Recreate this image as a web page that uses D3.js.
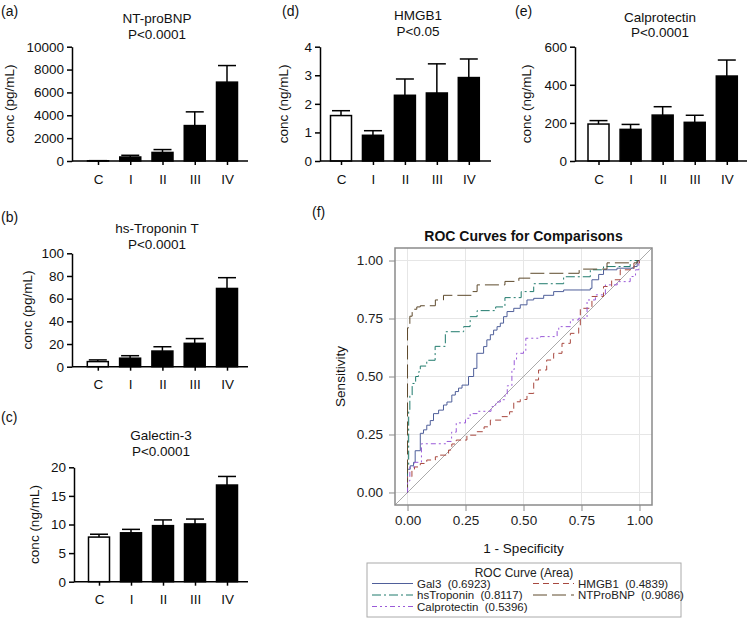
<!DOCTYPE html>
<html><head><meta charset="utf-8">
<script src="https://cdn.jsdelivr.net/npm/d3@7"></script>
<style>
body{margin:0;background:#fff;}
svg{display:block;font-family:"Liberation Sans",Arial,Helvetica,sans-serif;}
</style></head><body>
<svg id="chart" width="750" height="618"></svg>
<script>
// ---------- data ----------
const groups = ["C", "I", "II", "III", "IV"];

const ntProBNPMean = [20, 350, 750, 3100, 6900];
const ntProBNPErr  = [10, 150, 250, 1200, 1450];
const ntProBNPTicks = [0, 2000, 4000, 6000, 8000, 10000];

const troponinMean = [4.5, 7.5, 13.8, 20.6, 69];
const troponinErr  = [1.5, 2.2, 3.8, 4.2, 9.5];
const troponinTicks = [0, 20, 40, 60, 80, 100];

const galectinMean = [7.8, 8.55, 9.8, 10.1, 16.9];
const galectinErr  = [0.5, 0.6, 1.0, 0.85, 1.5];
const galectinTicks = [0, 5, 10, 15, 20];

const hmgb1Mean = [1.59, 0.90, 2.30, 2.38, 2.92];
const hmgb1Err  = [0.17, 0.16, 0.57, 1.02, 0.65];
const hmgb1Ticks = [0, 1, 2, 3, 4];

const calproMean = [194, 166, 241, 203, 446];
const calproErr  = [18, 26, 44, 37, 84];
const calproTicks = [0, 200, 400, 600];

const rocTicks = [0, 0.25, 0.5, 0.75, 1];
const rocNames = ["Gal3", "HMGB1", "hsTroponin", "NTProBNP", "Calprotectin"];
const rocAreas = ["0.6923", "0.4839", "0.8117", "0.9086", "0.5396"];

// ROC points: [1 - specificity, sensitivity] step corners
const rocGal3 = [[0,0],[0,0.10],[0.0115,0.115],[0.026,0.13],[0.033,0.18],[0.055,0.255],[0.069,0.27],[0.083,0.29],[0.098,0.31],[0.112,0.34],[0.134,0.355],[0.155,0.377],[0.17,0.39],[0.191,0.42],[0.206,0.435],[0.22,0.45],[0.235,0.463],[0.263,0.50],[0.285,0.535],[0.299,0.60],[0.328,0.629],[0.342,0.658],[0.357,0.68],[0.371,0.70],[0.386,0.715],[0.40,0.73],[0.414,0.758],[0.429,0.78],[0.458,0.794],[0.486,0.809],[0.515,0.83],[0.544,0.837],[0.587,0.85],[0.63,0.866],[0.673,0.873],[0.788,0.88],[0.795,0.917],[0.824,0.94],[0.845,0.96],[0.903,0.967],[0.976,0.974],[0.99,1.0],[1,1]];
const rocHMGB1 = [[0,0],[0,0.068],[0.019,0.096],[0.03,0.11],[0.055,0.125],[0.083,0.14],[0.12,0.154],[0.14,0.161],[0.177,0.183],[0.191,0.209],[0.21,0.226],[0.256,0.247],[0.30,0.262],[0.33,0.283],[0.357,0.312],[0.407,0.327],[0.44,0.348],[0.458,0.391],[0.486,0.401],[0.515,0.427],[0.544,0.485],[0.565,0.528],[0.60,0.571],[0.63,0.60],[0.666,0.643],[0.702,0.686],[0.738,0.715],[0.745,0.794],[0.795,0.845],[0.845,0.888],[0.88,0.917],[0.917,0.96],[0.976,0.989],[1,1]];
const rocTroponin = [[0,0],[0,0.12],[0.005,0.35],[0.01,0.42],[0.02,0.47],[0.035,0.50],[0.047,0.52],[0.055,0.545],[0.083,0.57],[0.119,0.63],[0.148,0.63],[0.163,0.693],[0.242,0.715],[0.27,0.758],[0.30,0.784],[0.38,0.80],[0.42,0.84],[0.49,0.866],[0.544,0.90],[0.673,0.93],[0.788,0.96],[0.845,0.974],[0.96,1.0],[1,1]];
const rocNTProBNP = [[0,0],[0,0.71],[0.01,0.76],[0.02,0.79],[0.04,0.80],[0.055,0.805],[0.12,0.83],[0.155,0.85],[0.278,0.866],[0.30,0.895],[0.42,0.91],[0.48,0.924],[0.53,0.945],[0.74,0.963],[0.86,0.99],[0.99,1.0],[1,1]];
const rocCalpro = [[0,0],[0,0.05],[0.01,0.11],[0.03,0.13],[0.06,0.21],[0.17,0.22],[0.19,0.26],[0.21,0.30],[0.25,0.32],[0.27,0.34],[0.30,0.35],[0.36,0.37],[0.38,0.39],[0.40,0.40],[0.42,0.42],[0.43,0.46],[0.45,0.53],[0.46,0.57],[0.47,0.60],[0.50,0.61],[0.51,0.665],[0.573,0.672],[0.645,0.70],[0.652,0.715],[0.702,0.744],[0.738,0.751],[0.774,0.83],[0.81,0.852],[0.853,0.895],[0.904,0.909],[0.96,0.931],[0.983,0.96],[0.997,0.996],[1,1]];

// ---------- drawing ----------
const FONT = '"Liberation Sans",Arial,Helvetica,sans-serif';
const svg = d3.select("#chart");

function barPanel(cfg) {
  const g = svg.append("g");
  const y = d3.scaleLinear().domain([0, cfg.max]).range([cfg.y0, cfg.yTop]);
  const x = d3.scalePoint().domain(groups).range([cfg.c0, cfg.c4]);
  const bw = 21;
  const cap = 18;

  // error bars (upper only)
  g.selectAll("line.err").data(groups).join("line")
    .attr("x1", d => x(d)).attr("x2", d => x(d))
    .attr("y1", (d, i) => y(cfg.mean[i])).attr("y2", (d, i) => y(cfg.mean[i] + cfg.err[i]))
    .attr("stroke", "#000").attr("stroke-width", 1.5);
  g.selectAll("line.cap").data(groups).join("line")
    .attr("x1", d => x(d) - cap / 2).attr("x2", d => x(d) + cap / 2)
    .attr("y1", (d, i) => y(cfg.mean[i] + cfg.err[i])).attr("y2", (d, i) => y(cfg.mean[i] + cfg.err[i]))
    .attr("stroke", "#000").attr("stroke-width", 1.5);

  // bars
  g.selectAll("rect.bar").data(groups).join("rect")
    .attr("x", d => x(d) - bw / 2).attr("width", bw)
    .attr("y", (d, i) => y(cfg.mean[i]))
    .attr("height", (d, i) => y(0) - y(cfg.mean[i]))
    .attr("fill", (d, i) => i === 0 ? "#fff" : "#000")
    .attr("stroke", "#000").attr("stroke-width", 1.5);

  // y axis
  const ya = g.append("g").attr("transform", `translate(${cfg.axisX},0)`)
    .call(d3.axisLeft(y).tickValues(cfg.ticks).tickFormat(d => String(d)).tickSize(5).tickSizeOuter(0).tickPadding(3));
  ya.attr("font-family", FONT).attr("font-size", 13.5);
  ya.select(".domain").attr("stroke-width", 1.5);
  ya.selectAll(".tick line").attr("stroke-width", 1.5);
  ya.selectAll(".tick text").attr("fill", "#111");

  // x axis
  g.append("line").attr("x1", cfg.axisX).attr("x2", cfg.axisEnd)
    .attr("y1", y(0)).attr("y2", y(0)).attr("stroke", "#000").attr("stroke-width", 1.5);
  const xa = g.append("g").attr("transform", `translate(0,${y(0)})`)
    .call(d3.axisBottom(x).tickSize(4).tickPadding(9));
  xa.attr("font-family", FONT).attr("font-size", 13.5);
  xa.select(".domain").remove();
  xa.selectAll(".tick line").attr("stroke-width", 1.5);
  xa.selectAll(".tick text").attr("fill", "#111");

  // titles
  g.append("text").attr("x", cfg.titleX).attr("y", cfg.titleY)
    .attr("text-anchor", "middle").attr("font-size", 13.5).attr("fill", "#111").text(cfg.title);
  g.append("text").attr("x", cfg.titleX).attr("y", cfg.titleY + 15.5)
    .attr("text-anchor", "middle").attr("font-size", 13.5).attr("fill", "#111").text(cfg.p);
  // y label
  const ym = (cfg.y0 + cfg.yTop) / 2;
  g.append("text").attr("transform", `translate(${cfg.labelX + 4.5},${ym}) rotate(-90)`)
    .attr("text-anchor", "middle").attr("font-size", 13.5).attr("fill", "#111").text(cfg.ylabel);
  // panel letter
  g.append("text").attr("x", cfg.letterX).attr("y", cfg.letterY)
    .attr("font-size", 14).attr("fill", "#111").text(cfg.letter);
}

barPanel({letter: "(a)", letterX: 1, letterY: 16, title: "NT-proBNP", p: "P<0.0001", titleX: 157, titleY: 23,
  ylabel: "conc (pg/mL)", labelX: 9, axisX: 72, axisEnd: 248, c0: 98, c4: 227, y0: 161, yTop: 46.7,
  max: 10000, ticks: ntProBNPTicks, mean: ntProBNPMean, err: ntProBNPErr});
barPanel({letter: "(b)", letterX: 1, letterY: 222, title: "hs-Troponin T", p: "P<0.0001", titleX: 157, titleY: 233,
  ylabel: "conc (pg/mL)", labelX: 27.5, axisX: 72, axisEnd: 248, c0: 97.8, c4: 227, y0: 366.7, yTop: 253.3,
  max: 100, ticks: troponinTicks, mean: troponinMean, err: troponinErr});
barPanel({letter: "(c)", letterX: 1, letterY: 422, title: "Galectin-3", p: "P<0.0001", titleX: 161, titleY: 440,
  ylabel: "conc (ng/mL)", labelX: 34, axisX: 74, axisEnd: 248, c0: 99, c4: 227, y0: 581.7, yTop: 467.3,
  max: 20, ticks: galectinTicks, mean: galectinMean, err: galectinErr});
barPanel({letter: "(d)", letterX: 282, letterY: 16, title: "HMGB1", p: "P<0.05", titleX: 418, titleY: 20,
  ylabel: "conc (ng/mL)", labelX: 283, axisX: 320, axisEnd: 491, c0: 341, c4: 468.8, y0: 161, yTop: 46.7,
  max: 4, ticks: hmgb1Ticks, mean: hmgb1Mean, err: hmgb1Err});
barPanel({letter: "(e)", letterX: 515, letterY: 16, title: "Calprotectin", p: "P<0.0001", titleX: 660, titleY: 21.5,
  ylabel: "conc (ng/mL)", labelX: 526, axisX: 575, axisEnd: 747, c0: 598.5, c4: 726.8, y0: 161, yTop: 46.7,
  max: 600, ticks: calproTicks, mean: calproMean, err: calproErr});

// ---------- ROC panel ----------
(function () {
  const g = svg.append("g");
  const L = 395, R = 652, T = 248, B = 505;
  const pad = 0.054;
  const xr = d3.scaleLinear().domain([-pad, 1 + pad]).range([L, R]);
  const yr = d3.scaleLinear().domain([-pad, 1 + pad]).range([B, T]);

  // grid
  g.selectAll("line.gx").data(rocTicks).join("line")
    .attr("x1", d => xr(d)).attr("x2", d => xr(d)).attr("y1", T).attr("y2", B)
    .attr("stroke", "#e6e6e6").attr("stroke-width", 1);
  g.selectAll("line.gy").data(rocTicks).join("line")
    .attr("y1", d => yr(d)).attr("y2", d => yr(d)).attr("x1", L).attr("x2", R)
    .attr("stroke", "#e6e6e6").attr("stroke-width", 1);

  // diagonal
  g.append("line").attr("x1", xr(-pad)).attr("y1", yr(-pad)).attr("x2", xr(1 + pad)).attr("y2", yr(1 + pad))
    .attr("stroke", "#aaaaaa").attr("stroke-width", 1);

  const styles = [
    {data: rocGal3, color: "#4f5f9a", dash: null},
    {data: rocHMGB1, color: "#a8483f", dash: "6,4"},
    {data: rocTroponin, color: "#1f7a6c", dash: "9,3,2,3"},
    {data: rocNTProBNP, color: "#5e4a2c", dash: "14,5"},
    {data: rocCalpro, color: "#9a5ad8", dash: "5,3,2,3,2,3"}
  ];
  const line = d3.line().x(d => xr(d[0])).y(d => yr(d[1])).curve(d3.curveStepAfter);
  styles.forEach(s => {
    g.append("path").attr("d", line(s.data)).attr("fill", "none")
      .attr("stroke", s.color).attr("stroke-width", 1)
      .attr("stroke-dasharray", s.dash);
  });

  // frame
  g.append("rect").attr("x", L).attr("y", T).attr("width", R - L).attr("height", B - T)
    .attr("fill", "none").attr("stroke", "#8a8a8a").attr("stroke-width", 1.5);

  // axes
  const xa = g.append("g").attr("transform", `translate(0,${B})`)
    .call(d3.axisBottom(xr).tickValues(rocTicks).tickFormat(d3.format(".2f")).tickSize(6).tickSizeOuter(0).tickPadding(4));
  xa.select(".domain").remove();
  xa.attr("font-family", FONT).attr("font-size", 13.5);
  xa.selectAll(".tick line").attr("stroke", "#8a8a8a");
  xa.selectAll(".tick text").attr("fill", "#222");
  const ya = g.append("g").attr("transform", `translate(${L},0)`)
    .call(d3.axisLeft(yr).tickValues(rocTicks).tickFormat(d3.format(".2f")).tickSize(6).tickSizeOuter(0).tickPadding(6));
  ya.select(".domain").remove();
  ya.attr("font-family", FONT).attr("font-size", 13.5);
  ya.selectAll(".tick line").attr("stroke", "#8a8a8a");
  ya.selectAll(".tick text").attr("fill", "#222");

  // titles
  g.append("text").attr("x", (L + R) / 2).attr("y", 241).attr("text-anchor", "middle")
    .attr("font-size", 14).attr("font-weight", "bold").attr("fill", "#111").text("ROC Curves for Comparisons");
  g.append("text").attr("x", 312).attr("y", 217).attr("font-size", 14).attr("fill", "#111").text("(f)");
  g.append("text").attr("transform", `translate(345,${(T + B) / 2}) rotate(-90)`).attr("text-anchor", "middle")
    .attr("font-size", 13.5).attr("fill", "#111").text("Sensitivity");
  g.append("text").attr("x", (L + R) / 2).attr("y", 553).attr("text-anchor", "middle")
    .attr("font-size", 13.5).attr("fill", "#111").text("1 - Specificity");

  // legend
  const lg = g.append("g");
  lg.append("rect").attr("x", 367).attr("y", 563).attr("width", 314).attr("height", 54)
    .attr("fill", "#fff").attr("stroke", "#aaaaaa").attr("stroke-width", 1);
  lg.append("text").attr("x", 524).attr("y", 576.5).attr("text-anchor", "middle")
    .attr("font-size", 12).attr("fill", "#222").text("ROC Curve (Area)");
  const pos = [[372, 587.5], [533, 587.5], [372, 599], [533, 599], [372, 610.5]];
  styles.forEach((s, i) => {
    const [lx, ly] = pos[i];
    lg.append("line").attr("x1", lx).attr("x2", lx + 41).attr("y1", ly - 4).attr("y2", ly - 4)
      .attr("stroke", s.color).attr("stroke-width", 1).attr("stroke-dasharray", s.dash);
    lg.append("text").attr("x", lx + 45).attr("y", ly).attr("font-size", 11.5).attr("fill", "#222")
      .style("white-space", "pre").text(rocNames[i] + "  (" + rocAreas[i] + ")");
  });
})();
</script>
</body></html>
